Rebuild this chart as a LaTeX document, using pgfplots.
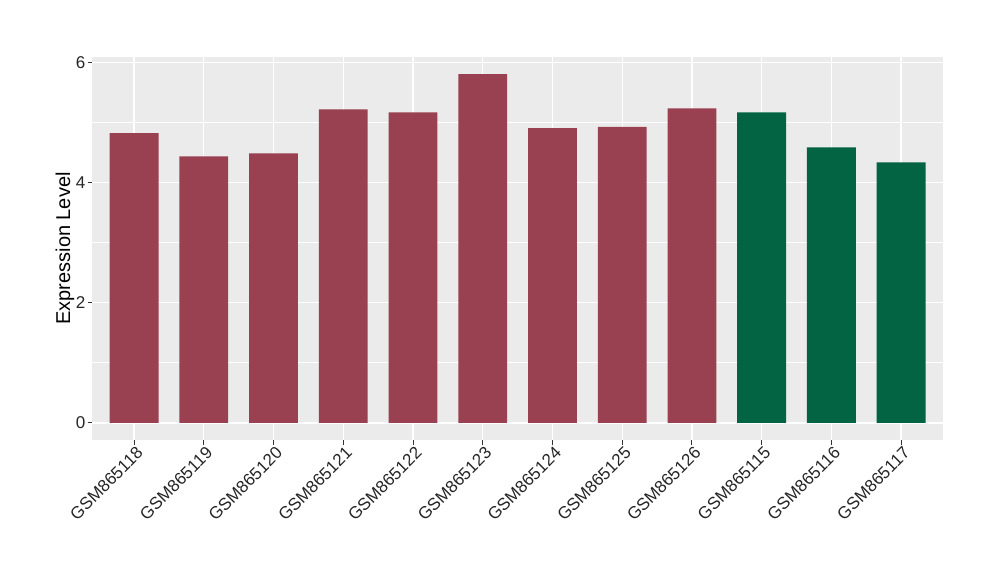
\documentclass[border=0pt]{standalone}
\usepackage{pgfplots}
\pgfplotsset{compat=1.18}
\usepackage{fontspec}
\setmainfont{Liberation Sans}
\definecolor{barred}{HTML}{994150}
\definecolor{bargreen}{HTML}{026442}
\definecolor{panel}{HTML}{EBEBEB}
\begin{document}
\begin{tikzpicture}
\useasboundingbox (0,0) rectangle (750pt,435pt);
\begin{axis}[
  at={(69.2pt,104.8pt)}, anchor=south west,
  scale only axis, width=638pt, height=287.7pt,
  xmin=0.4, xmax=12.6, ymin=-0.29, ymax=6.1,
  axis background/.style={fill=panel},
  axis line style={draw=none},
  xtick={1,...,12},
  xticklabels={GSM865118,GSM865119,GSM865120,GSM865121,GSM865122,GSM865123,GSM865124,GSM865125,GSM865126,GSM865115,GSM865116,GSM865117},
  ytick={0,2,4,6},
  minor ytick={1,3,5},
  xmajorgrids, ymajorgrids, yminorgrids,
  major grid style={white, line width=1pt},
  minor grid style={white, line width=0.5pt},
  tick align=outside, xtick pos=bottom, ytick pos=left,
  major tick length=3.5pt, minor tick length=0pt,
  tick style={color=black!80, line width=0.7pt},
  /pgf/number format/assume math mode=true,
  tick label style={font=\fontsize{12.8}{14}\selectfont, text=black!85},
  xticklabel style={rotate=45, anchor=north east, inner sep=1pt, xshift=1.5pt},
  yticklabel style={inner sep=1.5pt},
  ylabel={Expression Level},
  ylabel style={font=\fontsize{15}{18}\selectfont, at={(axis description cs:-0.0321,0.5)}, anchor=center},
  ybar, bar width=0.7, bar shift=0pt,
]
\addplot[fill=barred, draw=none] coordinates {
  (1,4.825) (2,4.44) (3,4.49) (4,5.22) (5,5.17) (6,5.81) (7,4.91) (8,4.93) (9,5.24)
};
\addplot[fill=bargreen, draw=none] coordinates {
  (10,5.17) (11,4.59) (12,4.34)
};
\end{axis}
\end{tikzpicture}
\end{document}
